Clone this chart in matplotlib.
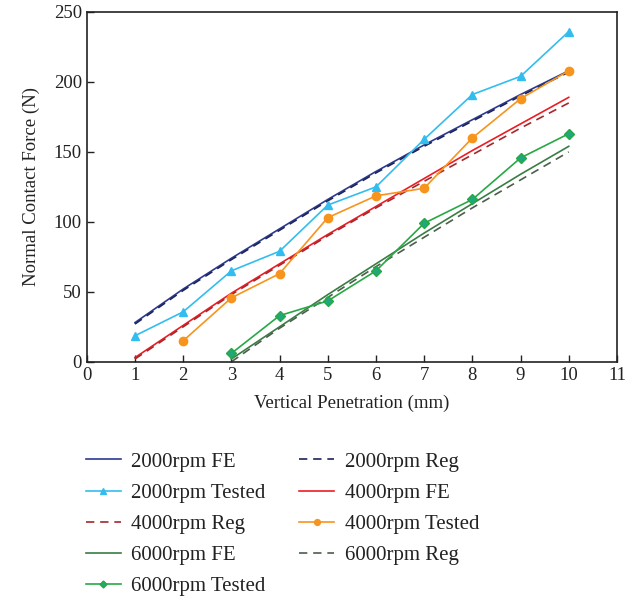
import matplotlib
matplotlib.use("Agg")
import matplotlib.pyplot as plt

plt.rcParams['font.family'] = ['Liberation Serif', 'DejaVu Serif']

x_fe2000 = [1, 2, 3, 4, 5, 6, 7, 8, 9, 10]
fe2000 = [28, 52, 74, 95, 116, 136, 155, 173, 191, 208]
reg2000 = [27, 51, 73, 94, 115, 135, 154, 172, 190, 207]
tested2000 = [18.6, 35.7, 65, 79, 112, 125, 159, 191, 204, 236]

x_4000 = [1, 2, 3, 4, 5, 6, 7, 8, 9, 10]
fe4000 = [3, 26, 49, 70, 91, 111, 131, 151, 170, 189]
reg4000 = [2, 25, 48, 69, 90, 110, 129, 148, 167, 185]
x_t4000 = [2, 3, 4, 5, 6, 7, 8, 9, 10]
tested4000 = [15, 45.7, 63, 103, 118.6, 124, 160, 188, 208]

x_6000 = [3, 4, 5, 6, 7, 8, 9, 10]
fe6000 = [2, 25, 48, 70, 92, 113, 134, 154]
reg6000 = [0, 24, 46, 68, 89, 110, 130, 150]
tested6000 = [6, 33, 43.5, 65, 99, 116, 145.7, 163]

fig = plt.figure(figsize=(6.38, 5.99), dpi=100)
ax = fig.add_axes([0.136, 0.396, 0.831, 0.584])

h = {}
h['fe2000'], = ax.plot(x_fe2000, fe2000, color='#2b3990', lw=1.2, label='2000rpm FE')
h['reg2000'], = ax.plot(x_fe2000, reg2000, color='#1c2456', lw=1.2, ls=(0, (5, 3.5)), label='2000rpm Reg')
h['t2000'], = ax.plot(x_fe2000, tested2000, color='#33bdef', lw=1.2, marker='^', ms=6, label='2000rpm Tested')
h['fe4000'], = ax.plot(x_4000, fe4000, color='#ed1c24', lw=1.2, label='4000rpm FE')
h['reg4000'], = ax.plot(x_4000, reg4000, color='#a3282b', lw=1.2, ls=(0, (5, 3.5)), label='4000rpm Reg')
h['t4000'], = ax.plot(x_t4000, tested4000, color='#f7941d', lw=1.2, marker='o', ms=6, label='4000rpm Tested')
h['fe6000'], = ax.plot(x_6000, fe6000, color='#3a7d44', lw=1.2, label='6000rpm FE')
h['reg6000'], = ax.plot(x_6000, reg6000, color='#4d5e4d', lw=1.2, ls=(0, (5, 3.5)), label='6000rpm Reg')
h['t6000'], = ax.plot(x_6000, tested6000, color='#27a844', lw=1.2, marker='D', ms=5,
                      mfc='#20a87a', mec='#27a844', label='6000rpm Tested')

ax.set_xlim(0, 11)
ax.set_ylim(0, 250)
ax.set_xticks(range(0, 12))
ax.set_yticks([0, 50, 100, 150, 200, 250])
ax.tick_params(direction='in', length=5, labelsize=13.5, top=False, right=False, width=1,
               colors='#222222')
for s in ax.spines.values():
    s.set_linewidth(1.2)
    s.set_color('#222222')
ax.set_xlabel('Vertical Penetration (mm)', fontsize=13.5, labelpad=8, color='#222222')
ax.set_ylabel('Normal Contact Force (N)', fontsize=13.5, labelpad=10, color='#222222')

order = ['fe2000', 't2000', 'reg4000', 'fe6000', 't6000', 'reg2000', 'fe4000', 't4000', 'reg6000']
handles = [h[k] for k in order]
leg = fig.legend(handles=handles, labels=[hh.get_label() for hh in handles], ncol=2,
                 loc='upper left', bbox_to_anchor=(0.121, 0.259), frameon=False, fontsize=15,
                 handlelength=1.7, handletextpad=0.5, columnspacing=1.6, labelspacing=0.55,
                 markerscale=0.7, borderaxespad=0)
for t in leg.get_texts():
    t.set_color('#222222')

fig.savefig('out.png', dpi=100)
